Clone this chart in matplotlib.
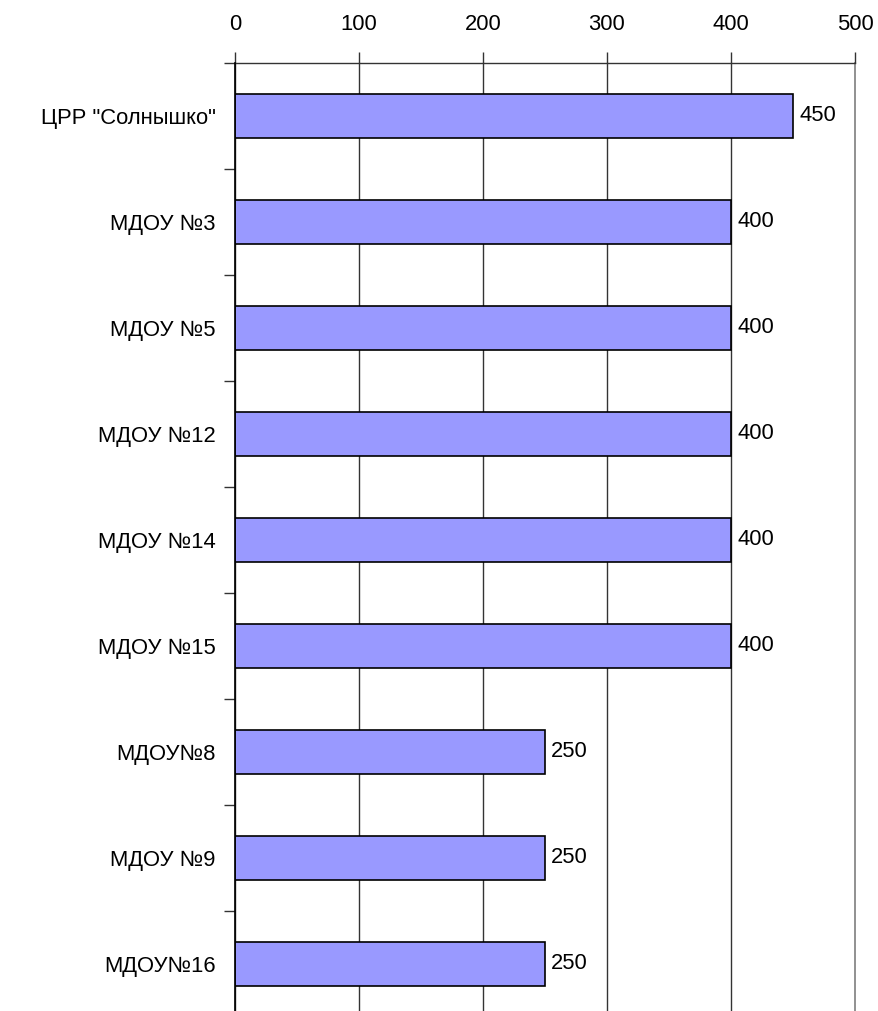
import matplotlib
matplotlib.use("Agg")
import matplotlib.pyplot as plt
import numpy as np

categories = ['ЦРР "Солнышко"', 'МДОУ №3', 'МДОУ №5', 'МДОУ №12', 'МДОУ №14',
              'МДОУ №15', 'МДОУ№8', 'МДОУ №9', 'МДОУ№16']
values = [450, 400, 400, 400, 400, 400, 250, 250, 250]
xticks = [0, 100, 200, 300, 400, 500]

plt.rcParams['font.family'] = ['Liberation Sans', 'DejaVu Sans']

W, H = 879, 1011
fig = plt.figure(figsize=(W / 100, H / 100), dpi=100)
ax = fig.add_axes([235 / W, (H - 1017) / H, 620 / W, 954 / H])

FS = 15.8
pos = np.arange(len(categories))
ax.barh(pos, values, height=0.41, color='#9999FF', edgecolor='black',
        linewidth=1.2, zorder=3)
for p, v in zip(pos, values):
    ax.text(v + 5, p, str(v), va='center', ha='left', fontsize=FS, zorder=4)

ax.set_xlim(0, 500)
ax.set_ylim(len(categories) - 0.5, -0.5)
ax.set_xticks(xticks)
ax.xaxis.tick_top()
ax.tick_params(axis='x', which='major', direction='out', length=8, width=1,
               color='#333333', labelsize=FS, pad=12)
ax.set_yticks(pos)
ax.set_yticklabels(categories)
ax.tick_params(axis='y', which='major', length=0, labelsize=FS, pad=14)
ax.set_yticks(np.arange(len(categories) + 1) - 0.5, minor=True)
ax.tick_params(axis='y', which='minor', direction='out', length=8, width=1,
               color='#333333')

ax.grid(axis='x', color='#333333', linewidth=1, zorder=1)
for gl in ax.get_xgridlines():
    gl.set_clip_on(False)
ax.get_xgridlines()[-1].set_color('#888888')
ax.get_xgridlines()[-1].set_linewidth(1.3)
for s in ['right', 'bottom']:
    ax.spines[s].set_visible(False)
ax.spines['left'].set_color('black')
ax.spines['left'].set_linewidth(1.2)
ax.spines['left'].set_zorder(5)
ax.spines['top'].set_color('#333333')
ax.spines['top'].set_linewidth(1)

fig.savefig('out.png', dpi=100)
